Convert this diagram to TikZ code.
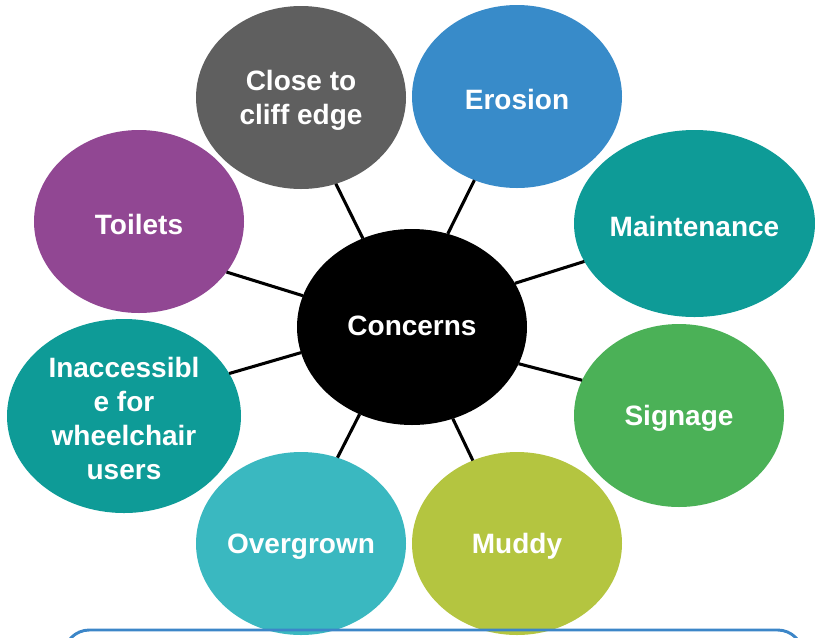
\documentclass[tikz,border=0pt]{standalone}
\usepackage{fontspec}
\setmainfont{Liberation Sans}
\usetikzlibrary{shapes.geometric}
\definecolor{cgray}{HTML}{5F5F5F}
\definecolor{cblue}{HTML}{388BC9}
\definecolor{cpurple}{HTML}{914793}
\definecolor{cteal}{HTML}{0E9B97}
\definecolor{cgreen}{HTML}{4BB157}
\definecolor{ccyan}{HTML}{3AB8C0}
\definecolor{colive}{HTML}{B4C540}
\definecolor{cframe}{HTML}{3C86C8}
\begin{document}
\begin{tikzpicture}[x=0.75pt,y=-0.75pt,
  txt/.style={text=white, inner sep=0pt, yshift=-2.2pt,
    font=\fontsize{21}{25.5}\selectfont\bfseries, align=center},
  bubble/.style={ellipse, inner sep=0pt, outer sep=0pt,
    label={[txt]center:{#1}}},
  hubble/.style={ellipse, inner sep=0pt, outer sep=0pt,
    label={[txt, yshift=3.4pt]center:{#1}}},
  sz/.style 2 args={minimum width=#1*0.75pt, minimum height=#2*0.75pt},
  spoke/.style={line width=2.3pt, draw=black},
  frame/.style={line width=2.2pt, draw=cframe, rounded corners=19pt}]
\path[use as bounding box, clip] (0,0) rectangle (815,637);
\node[hubble={Concerns}, sz={230}{196}, fill=black] (c) at (412,327) {};
\node[bubble={Close to\\cliff edge}, sz={210}{183}, fill=cgray] (cliff) at (301,97.5) {};
\node[bubble={Erosion}, sz={210}{183}, fill=cblue] (ero) at (517,96.5) {};
\node[bubble={Toilets}, sz={210}{183}, fill=cpurple] (toi) at (139,221.5) {};
\node[bubble={Maintenance}, sz={241}{187}, fill=cteal] (mai) at (694.5,223.5) {};
\node[bubble={Inaccessibl\\e for\\wheelchair\\users}, sz={234}{194}, fill=cteal] (ina) at (124,416) {};
\node[bubble={Signage}, sz={210}{183}, fill=cgreen] (sig) at (679,415.5) {};
\node[bubble={Overgrown}, sz={210}{183}, fill=ccyan] (ove) at (301,543.5) {};
\node[bubble={Muddy}, sz={210}{183}, fill=colive] (mud) at (517,543.5) {};
\draw[spoke] (c.164) -- (toi.-30);
\draw[spoke] (c.193) -- (ina.22);
\draw[spoke] (c.119) -- (cliff.-68);
\draw[spoke] (c.69) -- (ero.243);
\draw[spoke] (c.23) -- (mai.199);
\draw[spoke] (c.-19) -- (sig.160);
\draw[spoke] (c.239) -- (ove.67);
\draw[spoke] (c.-66) -- (mud.118);
\draw[frame] (64,630) rectangle (803,700);
\end{tikzpicture}
\end{document}
